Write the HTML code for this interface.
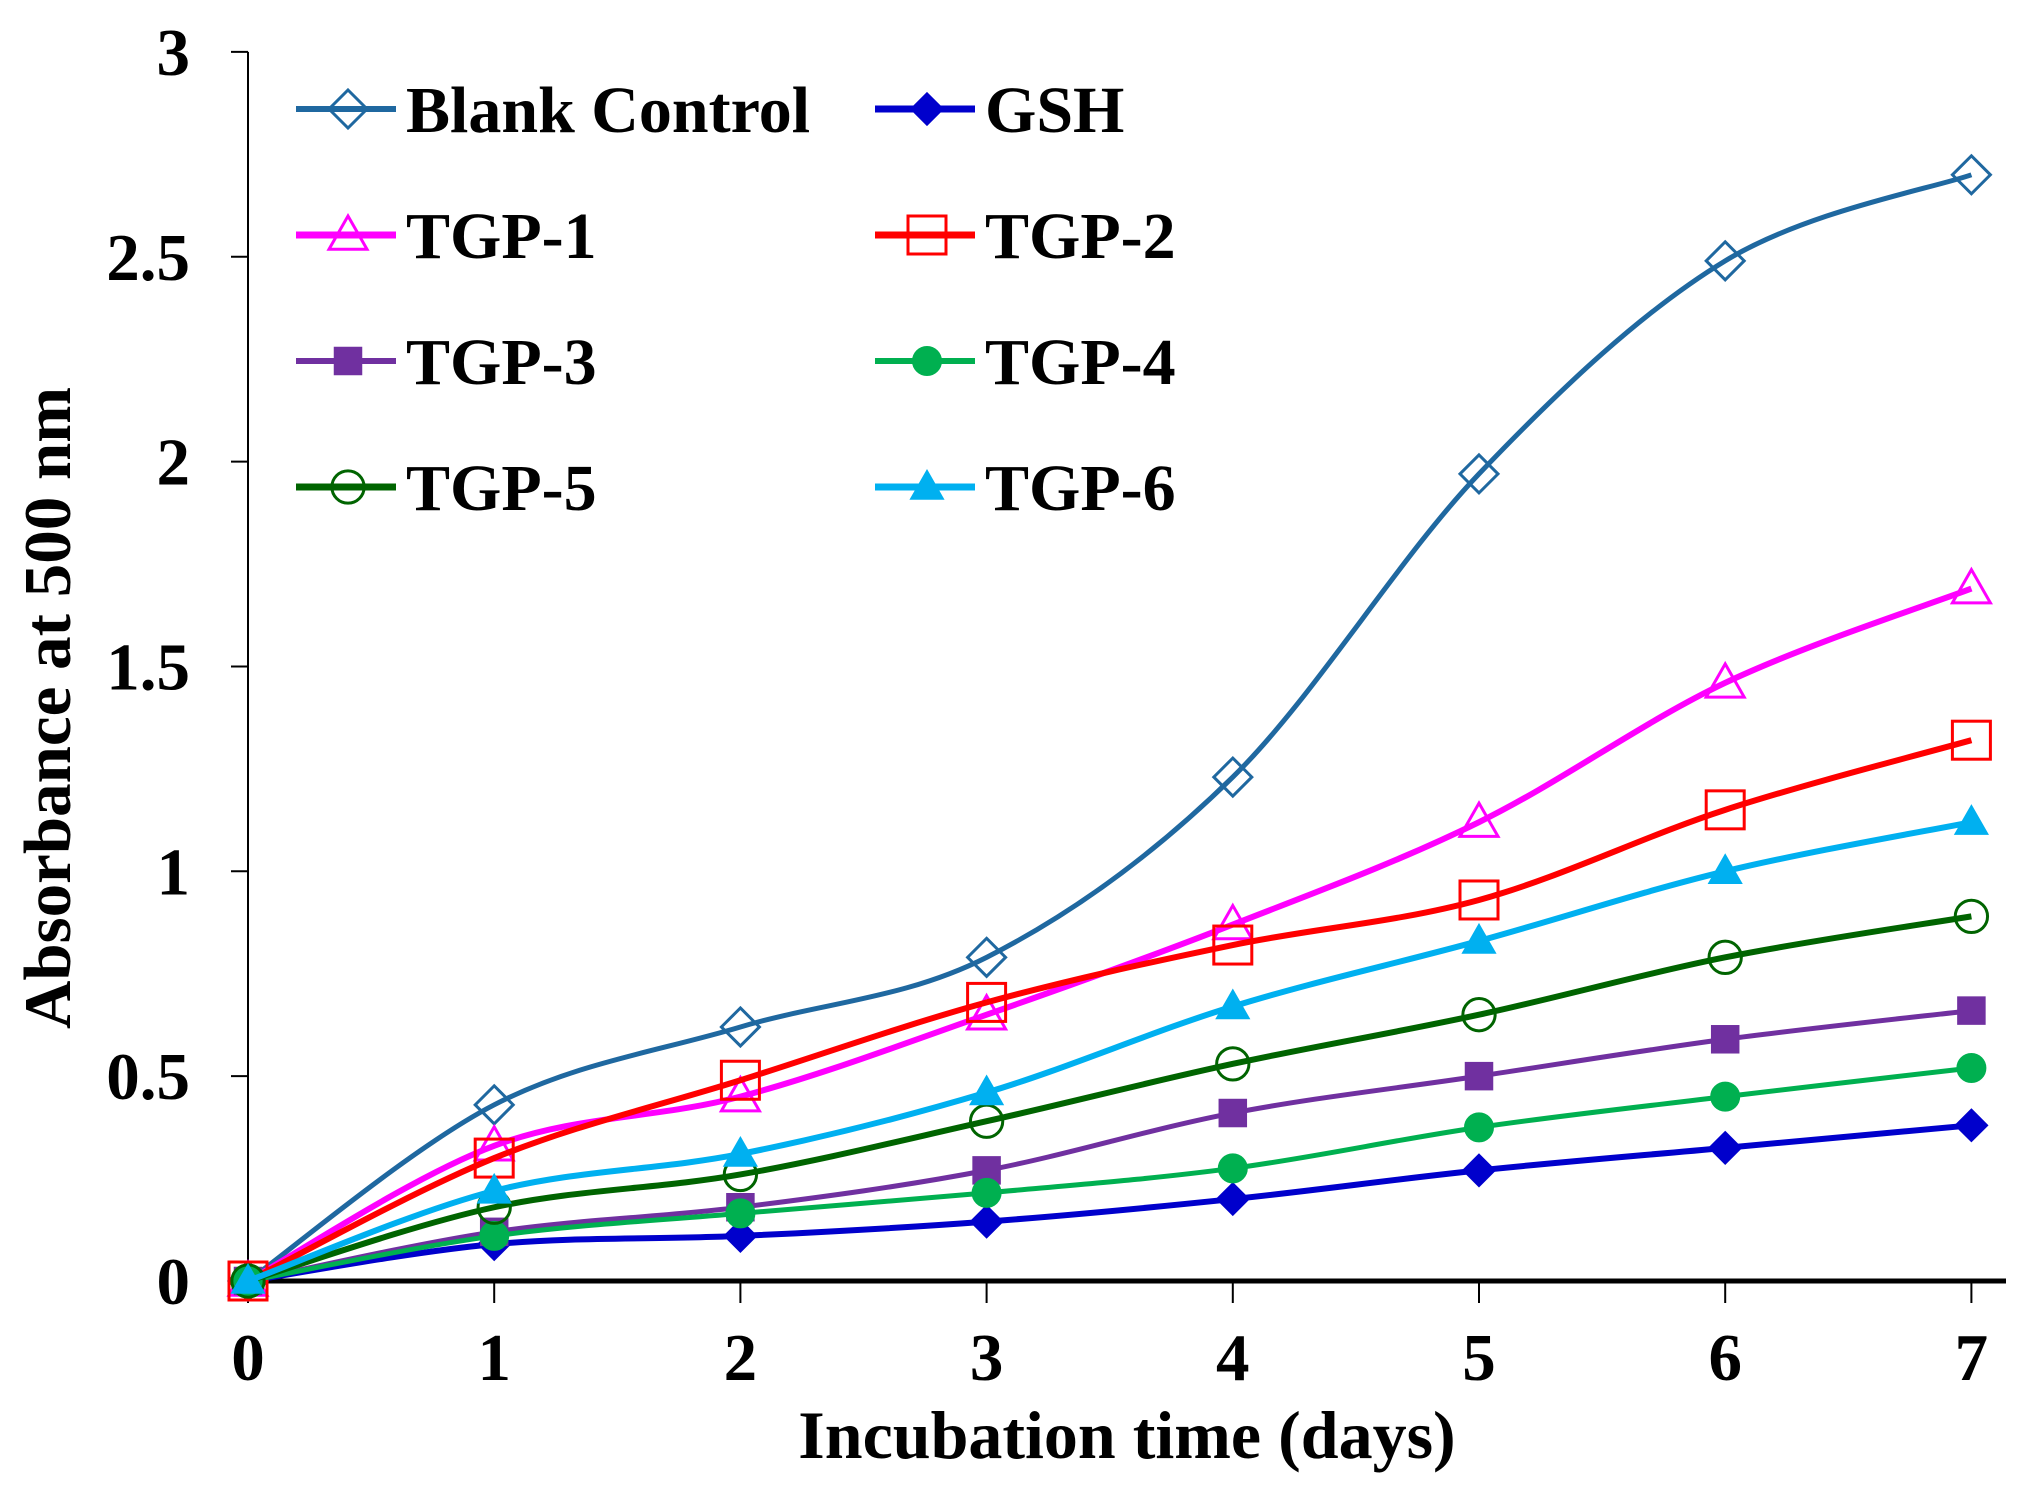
<!DOCTYPE html>
<html><head><meta charset="utf-8"><style>
html,body{margin:0;padding:0;background:#fff;}
svg{display:block;}
text{font-family:"Liberation Serif",serif;font-weight:bold;fill:#000;}
</style></head><body>
<svg id="chart" width="2026" height="1500" viewBox="0 0 2026 1500" xmlns="http://www.w3.org/2000/svg">
<g id="grid"></g><g id="series"></g><g id="legend"></g>
<text x="1127" y="1458" font-size="68" text-anchor="middle">Incubation time (days)</text>
<text transform="translate(70,708) rotate(-90)" font-size="67" text-anchor="middle">Absorbance at 500 nm</text>
</svg>
<script>
const days = [0,1,2,3,4,5,6,7];
const yTicks = [0,0.5,1,1.5,2,2.5,3];
const yTickLabels = ["0","0.5","1","1.5","2","2.5","3"];
const seriesNames = ["Blank Control","GSH","TGP-1","TGP-2","TGP-3","TGP-4","TGP-5","TGP-6"];
const blank = [0,0.43,0.62,0.79,1.23,1.97,2.49,2.70];
const gsh = [0,0.09,0.11,0.145,0.2,0.27,0.325,0.38];
const tgp1 = [0,0.33,0.45,0.65,0.87,1.12,1.46,1.69];
const tgp2 = [0,0.30,0.49,0.68,0.82,0.93,1.15,1.32];
const tgp3 = [0,0.12,0.18,0.27,0.41,0.50,0.59,0.66];
const tgp4 = [0,0.11,0.165,0.215,0.275,0.375,0.45,0.52];
const tgp5 = [0,0.18,0.26,0.39,0.53,0.65,0.79,0.89];
const tgp6 = [0,0.22,0.31,0.46,0.67,0.83,1.00,1.12];

const NS="http://www.w3.org/2000/svg";
const X0=248, XU=246.2, Y0=1281, YU=409.7;
function xs(d){return X0+d*XU;}
function ys(v){return Y0-v*YU;}
function mk(tag,attrs,parent){const e=document.createElementNS(NS,tag);for(const k in attrs)e.setAttribute(k,attrs[k]);parent.appendChild(e);return e;}
const grid=document.getElementById('grid');
const ser=document.getElementById('series');
const leg=document.getElementById('legend');

let a=mk('line',{x1:X0,y1:ys(3),x2:X0,y2:Y0,stroke:'#000','stroke-width':2},grid);


yTicks.forEach((t,i)=>{
  let l=mk('line',{x1:X0-17,y1:ys(t),x2:X0,y2:ys(t),stroke:'#000','stroke-width':2},grid);
  
  
  let tx=mk('text',{x:190,y:ys(t)+23,'font-size':67,'text-anchor':'end'},grid);
  tx.textContent=yTickLabels[i];
  
  
});
let xa=mk('line',{x1:X0,y1:Y0,x2:2006,y2:Y0,stroke:'#000','stroke-width':5},grid);


days.forEach(d=>{
  let l=mk('line',{x1:xs(d),y1:Y0,x2:xs(d),y2:Y0+22,stroke:'#000','stroke-width':2},grid);
  
  
  let tx=mk('text',{x:xs(d),y:1380,'font-size':67,'text-anchor':'middle'},grid);
  tx.textContent=String(d);
  
  
});

const styles=[
 {c:'#1F68A0',m:'diamond',f:false,w:5},
 {c:'#0000CC',m:'diamond',f:true,w:6},
 {c:'#FF00FF',m:'triangle',f:false,w:6},
 {c:'#FF0000',m:'square',f:false,w:6},
 {c:'#7030A0',m:'square',f:true,w:5},
 {c:'#00B050',m:'circle',f:true,w:5},
 {c:'#006400',m:'circle',f:false,w:6},
 {c:'#00B0F0',m:'triangle',f:true,w:6}];
const data=[blank,gsh,tgp1,tgp2,tgp3,tgp4,tgp5,tgp6];

function marker(type,filled,c,x,y,parent){
  const s=filled?15:19;
  const at={stroke:c,'stroke-width':3,fill:filled?c:'none'};
  let e;
  if(type==='diamond'){at.points=`${x},${y-s} ${x+s},${y} ${x},${y+s} ${x-s},${y}`;e=mk('polygon',at,parent);}
  else if(type==='triangle'){at.points=`${x},${y-s} ${x+s},${y+s*0.75} ${x-s},${y+s*0.75}`;e=mk('polygon',at,parent);}
  else if(type==='square'){const q=filled?s*0.85:s;Object.assign(at,{x:x-q,y:y-q,width:2*q,height:2*q});e=mk('rect',at,parent);}
  else {Object.assign(at,{cx:x,cy:y,r:filled?s*0.9:s*0.85});e=mk('circle',at,parent);}
  return e;
}
function smooth(pts){
  let d=`M${pts[0][0]},${pts[0][1]}`;
  for(let i=0;i<pts.length-1;i++){
    const p0=pts[i-1]||pts[i],p1=pts[i],p2=pts[i+1],p3=pts[i+2]||p2;
    const t=1/6;
    d+=` C${p1[0]+(p2[0]-p0[0])*t},${p1[1]+(p2[1]-p0[1])*t} ${p2[0]-(p3[0]-p1[0])*t},${p2[1]-(p3[1]-p1[1])*t} ${p2[0]},${p2[1]}`;
  }
  return d;
}
data.forEach((arr,i)=>{
  const st=styles[i];
  const g=mk('g',{},ser);
  
  
  const pts=arr.map((v,j)=>[xs(days[j]),ys(v)]);
  const p=mk('path',{d:smooth(pts),stroke:st.c,'stroke-width':st.w,fill:'none'},g);
  
  
  pts.forEach(pt=>{
    const m=marker(st.m,st.f,st.c,pt[0],pt[1],g);
    
    
  });
});
const colX=[296,875], rowY=[109,235,361,487];
seriesNames.forEach((n,i)=>{
  const st=styles[i];
  const lx=colX[i%2], ly=rowY[Math.floor(i/2)];
  const g=mk('g',{},leg);
  
  
  mk('line',{x1:lx,y1:ly,x2:lx+100,y2:ly,stroke:st.c,'stroke-width':st.w+1},g);
  marker(st.m,st.f,st.c,lx+52,ly,g);
  const t=mk('text',{x:lx+110,y:ly+23,'font-size':66},g);
  t.textContent=n;
});
</script>
</body></html>
